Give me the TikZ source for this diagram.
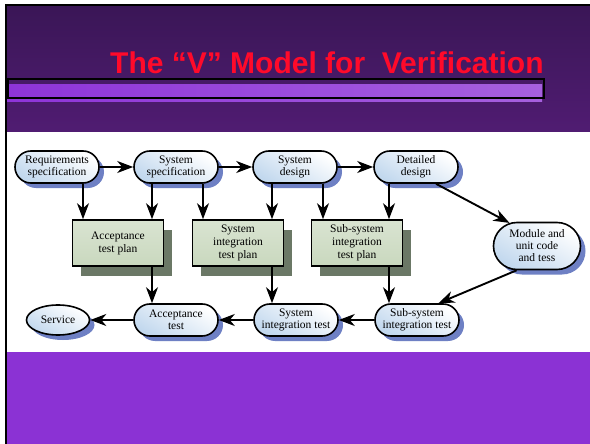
\documentclass[tikz,border=0pt]{standalone}
\usepackage{fontspec}
\setmainfont{Liberation Serif}
\newfontfamily\titlefont{Liberation Sans}
\usetikzlibrary{arrows.meta,shapes.misc,shapes.geometric,shadows}
\definecolor{bgtop}{HTML}{3A1656}
\definecolor{bgbot}{HTML}{501C72}
\definecolor{barl}{HTML}{8E34D8}
\definecolor{barr}{HTML}{A660DE}
\definecolor{lowband}{HTML}{8B32D4}
\definecolor{titlered}{HTML}{FF0A2A}
\definecolor{shblue}{HTML}{6E80C4}
\definecolor{shgreen}{HTML}{6B7866}
\definecolor{fillblue}{HTML}{C2D8EE}
\definecolor{fillgreen}{HTML}{C9D8BE}
\tikzset{
  stadium/.style={rounded rectangle, draw=black, line width=1.6pt,
    top color=white, bottom color=fillblue, shading angle=-30,
    minimum width=86pt, minimum height=32pt, inner sep=1pt, align=center,
    font=\fontsize{11.5}{12}\selectfont,
    general shadow={fill=shblue, shadow xshift=5pt, shadow yshift=-5pt}},
  planbox/.style={rectangle, draw=black, line width=1.6pt,
    top color=white!30!fillgreen, bottom color=fillgreen,
    minimum width=91pt, minimum height=46pt, inner sep=1pt, align=center,
    font=\fontsize{11.5}{13}\selectfont,
    general shadow={fill=shgreen, shadow xshift=8pt, shadow yshift=-10pt}},
  flow/.style={draw=black, line width=1.9pt,
    -{Stealth[length=16pt,width=12pt,inset=5pt]}}
}
\begin{document}
\begin{tikzpicture}[x=1pt,y=-1pt]
\useasboundingbox (0,0) rectangle (590,444);
% backgrounds
\fill[white] (0,0) rectangle (590,444);
\shade[top color=bgtop, bottom color=bgbot] (6,5) rectangle (590,132);
\fill[lowband] (6,352) rectangle (590,444);
\draw[black, line width=2pt] (6,444) -- (6,5) -- (590,5);
% bar
\shade[left color=barl, right color=barr] (7,85) rectangle (542,102);
\draw[black, line width=2pt] (8,79) rectangle (544,98);
% title
\node[anchor=base west, inner sep=0pt, text=titlered,
  font=\titlefont\bfseries\fontsize{30}{32}\selectfont] (title) at (110,74)
  {The “V” Model for\ \ Verification};
% top row
\node[stadium] (req) at (57,167) {Requirements\\specification};
\node[stadium] (sysspec) at (176,167) {System\\specification};
\node[stadium] (sysdes) at (295,167) {System\\design};
\node[stadium] (detdes) at (416,167) {Detailed\\design};
\node[stadium, minimum width=89pt, minimum height=47pt] (module) at (537,246) {Module and\\unit code\\and tess};
% plan boxes
\node[planbox] (atp) at (118,243) {Acceptance\\test plan};
\node[planbox] (sitp) at (238,243) {System\\integration\\test plan};
\node[planbox] (ssitp) at (357,243) {Sub-system\\integration\\test plan};
% bottom row
\node[stadium, ellipse, minimum width=63pt, minimum height=30pt] (service) at (58,320) {Service};
\node[stadium] (acct) at (176,320) {Acceptance\\test};
\node[stadium] (sit) at (296,320) {System\\integration test};
\node[stadium] (ssit) at (417,320) {Sub-system\\integration test};
% horizontal arrows top
\draw[flow] (req) -- (sysspec);
\draw[flow] (sysspec) -- (sysdes);
\draw[flow] (sysdes) -- (detdes);
% vertical arrows
\draw[flow] (req.south -| 83,0) coordinate (a1) -- (a1 |- atp.north);
\draw[flow] (sysspec.south -| 152,0) coordinate (a2) -- (a2 |- atp.north);
\draw[flow] (sysspec.south -| 203,0) coordinate (a3) -- (a3 |- sitp.north);
\draw[flow] (sysdes.south -| 272,0) coordinate (a4) -- (a4 |- sitp.north);
\draw[flow] (sysdes.south -| 323,0) coordinate (a5) -- (a5 |- ssitp.north);
\draw[flow] (detdes.south -| 389,0) coordinate (a6) -- (a6 |- ssitp.north);
\draw[flow] (atp.south -| 152,0) coordinate (b1) -- (b1 |- acct.north);
\draw[flow] (sitp.south -| 272,0) coordinate (b2) -- (b2 |- sit.north);
\draw[flow] (ssitp.south -| 389,0) coordinate (b3) -- (b3 |- ssit.north);
% diagonals
\draw[flow] (detdes.-40) -- (module.140);
\draw[flow] (module.-130) -- (ssit.38);
% bottom arrows
\draw[flow] (ssit) -- (sit);
\draw[flow] (sit) -- (acct);
\draw[flow] (acct) -- (service);
\end{tikzpicture}
\end{document}
